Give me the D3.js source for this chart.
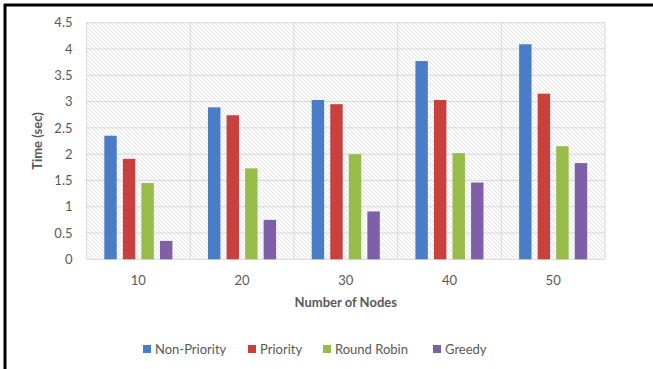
<!DOCTYPE html>
<html>
<head>
<meta charset="utf-8">
<script src="https://cdn.jsdelivr.net/npm/d3@7"></script>
<style>
  html, body { margin: 0; padding: 0; background: #fff; }
  svg { display: block; }
  text { font-family: Lato, "Open Sans", sans-serif; }
</style>
</head>
<body>
<svg id="chart" width="653" height="369"></svg>
<script>
// Execution time per scheduling strategy for different node counts
const nodes = ["10", "20", "30", "40", "50"];
const seriesNames = ["Non-Priority", "Priority", "Round Robin", "Greedy"];
const nonPriority = [2.35, 2.89, 3.03, 3.77, 4.09];
const priority    = [1.91, 2.74, 2.95, 3.03, 3.15];
const roundRobin  = [1.45, 1.73, 2.00, 2.02, 2.15];
const greedy      = [0.35, 0.75, 0.91, 1.46, 1.83];
const yTicks = [0, 0.5, 1, 1.5, 2, 2.5, 3, 3.5, 4, 4.5];
const colors = ["#4a7dc7", "#c9413f", "#97bc4a", "#7f5fa5"];

const seriesValues = [nonPriority, priority, roundRobin, greedy];
const rows = nodes.map((n, i) => ({
  node: n,
  values: seriesNames.map((s, j) => ({ key: s, value: seriesValues[j][i], color: colors[j] }))
}));

const svg = d3.select("#chart");

// outer frame (top and left edges)
svg.append("line").attr("x1", 4).attr("x2", 653).attr("y1", 5).attr("y2", 5)
  .attr("stroke", "#000").attr("stroke-width", 3);
svg.append("line").attr("x1", 5).attr("x2", 5).attr("y1", 4).attr("y2", 369)
  .attr("stroke", "#000").attr("stroke-width", 3);

const plot = { left: 86.5, right: 605, top: 22.7, bottom: 259.3 };

const x0 = d3.scaleBand().domain(nodes).range([plot.left, plot.right]).padding(0);
const x1 = d3.scaleBand().domain(seriesNames).range([0, x0.bandwidth()])
  .paddingInner(0.33).paddingOuter(0.96);
const y = d3.scaleLinear().domain([0, 4.5]).range([plot.bottom, plot.top]);

// diagonal hatch fill of the plot area
const defs = svg.append("defs");
const pat = defs.append("pattern").attr("id", "hatch")
  .attr("patternUnits", "userSpaceOnUse").attr("width", 4).attr("height", 4);
pat.append("rect").attr("width", 4).attr("height", 4).attr("fill", "#fbfbfb");
pat.append("path").attr("d", "M0,0 L4,4 M-1,3 L1,5 M3,-1 L5,1")
  .attr("stroke", "#e2e2e2").attr("stroke-width", 0.9);

svg.append("rect")
  .attr("x", plot.left).attr("y", plot.top)
  .attr("width", plot.right - plot.left).attr("height", plot.bottom - plot.top)
  .attr("fill", "url(#hatch)");

// gridlines
svg.append("g").selectAll("line").data(yTicks).join("line")
  .attr("x1", plot.left).attr("x2", plot.right)
  .attr("y1", d => y(d)).attr("y2", d => y(d))
  .attr("stroke", "#d9d9d9").attr("stroke-width", 1);
const bounds = nodes.map(n => x0(n)).concat([plot.right]);
svg.append("g").selectAll("line").data(bounds).join("line")
  .attr("x1", d => d).attr("x2", d => d)
  .attr("y1", plot.top).attr("y2", plot.bottom)
  .attr("stroke", "#d9d9d9").attr("stroke-width", 1);

// bars
svg.append("g").selectAll("g").data(rows).join("g")
  .attr("transform", d => `translate(${x0(d.node)},0)`)
  .selectAll("rect").data(d => d.values).join("rect")
  .attr("x", d => x1(d.key))
  .attr("width", x1.bandwidth())
  .attr("y", d => y(d.value))
  .attr("height", d => y(0) - y(d.value))
  .attr("fill", d => d.color);

// y axis labels
const yAxis = d3.axisLeft(y).tickValues(yTicks).tickSize(0).tickPadding(14)
  .tickFormat(d3.format("~g"));
const yg = svg.append("g").attr("transform", `translate(${plot.left},0)`).call(yAxis);
yg.select(".domain").remove();
yg.selectAll("text").attr("fill", "#595959").style("font-size", "13px")
  .style("font-family", "Lato, sans-serif");

// x axis labels
const xAxis = d3.axisBottom(x0).tickSize(0).tickPadding(16);
const xg = svg.append("g").attr("transform", `translate(0,${plot.bottom})`).call(xAxis);
xg.select(".domain").remove();
xg.selectAll("text").attr("fill", "#595959").style("font-size", "13px")
  .style("font-family", "Lato, sans-serif");

// axis titles
svg.append("text")
  .attr("x", (plot.left + plot.right) / 2).attr("y", 307)
  .attr("text-anchor", "middle").attr("fill", "#595959")
  .style("font-size", "13px").style("font-weight", "bold")
  .text("Number of Nodes");
svg.append("text")
  .attr("transform", `translate(42,${(plot.top + plot.bottom) / 2}) rotate(-90)`)
  .attr("text-anchor", "middle").attr("fill", "#595959")
  .style("font-size", "13px").style("font-weight", "bold")
  .text("Time (sec)");

// legend
const legendX = [143, 248, 323, 433];
const lg = svg.append("g").selectAll("g").data(seriesNames).join("g")
  .attr("transform", (d, i) => `translate(${legendX[i]},349)`);
lg.append("rect").attr("x", 0).attr("y", -4).attr("width", 8).attr("height", 8)
  .attr("fill", (d, i) => colors[i]);
lg.append("text").attr("x", 12).attr("y", 4.5)
  .attr("fill", "#595959").style("font-size", "13px")
  .text(d => d);
</script>
</body>
</html>
